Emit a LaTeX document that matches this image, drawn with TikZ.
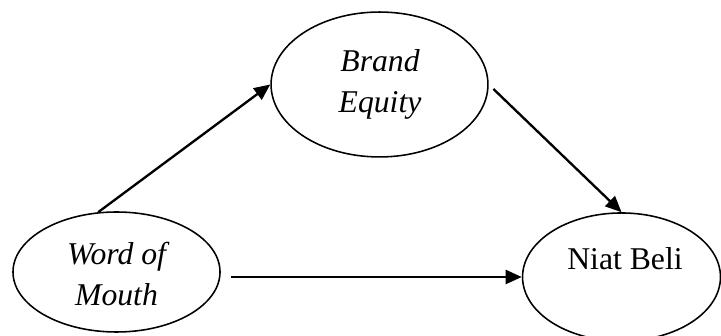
\documentclass[tikz,border=0pt]{standalone}
\usepackage{fontspec}
\setmainfont{Liberation Serif}
\usetikzlibrary{shapes.geometric,arrows.meta}
\tikzset{
  oval/.style={draw=black, line width=0.6pt, ellipse, inner sep=0pt},
  lbl/.style={font=\fontsize{12.2}{15.8}\selectfont, align=center, inner sep=0pt, anchor=center},
  arr/.style={draw=black, line width=0.9pt, -{Triangle[length=6.2pt,width=5.4pt]}},
}
\begin{document}
\begin{tikzpicture}[x=0.385pt,y=-0.385pt]
\useasboundingbox (0,0) rectangle (721,336);
\node[oval, minimum width=79.7pt, minimum height=46.2pt] (wom) at (116.5,272) {};
\node[oval, minimum width=83.5pt, minimum height=55.8pt] (be) at (379.5,84.5) {};
\node[oval, minimum width=76.2pt, minimum height=49.3pt] (nb) at (621.5,277) {};
\node[lbl] (womt) at (116.5,274) {\itshape Word of\\\itshape Mouth};
\node[lbl] (bet) at (380,84.3) {\itshape Brand\\\itshape Equity};
\node[lbl] (nbt) at (625,258.4) {Niat Beli};
\draw[arr] (wom.107) -- (be.west);
\draw[arr, shorten <=2.5pt] (be.east) -- (nb.north);
\draw[arr, shorten <=3.9pt] (wom.east |- nb.west) -- (nb.west);
\end{tikzpicture}
\end{document}
